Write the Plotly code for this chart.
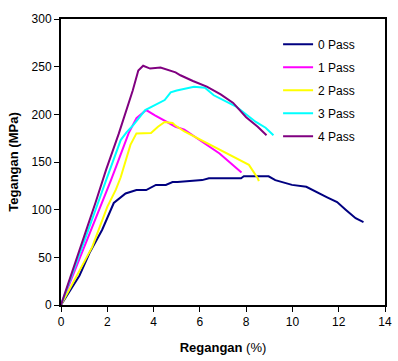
import plotly.graph_objects as go

# Stress-strain curves (strain in %, stress in MPa) for each number of passes
strain_0 = [0, 0.8, 1.23, 1.78, 2.28, 2.79, 3.26, 3.68, 4.1, 4.53, 4.82, 5.03, 6.1, 6.39,
            7.78, 7.9, 8.97, 9.26, 9.98, 10.6, 11.5, 11.93, 12.3, 12.73, 13.07]
stress_0 = [0, 31, 54.5, 79, 107, 117, 120.6, 120.6, 126, 126, 129, 129, 131, 133,
            133, 135, 135, 131, 126, 124, 113, 108, 100, 91, 87]

strain_1 = [0, 0.6, 1.2, 1.7, 2.16, 2.41, 2.92, 3.26, 3.68, 4.06, 4.6, 4.95, 5.33, 6.0,
            6.85, 7.8]
stress_1 = [0, 36, 72, 104, 131, 147, 180, 196, 204.5, 199, 192, 187, 184, 173,
            159, 139]

strain_2 = [0, 0.8, 1.35, 2.0, 2.37, 2.58, 2.79, 3.0, 3.26, 3.89, 4.19, 4.48, 4.82, 4.9,
            5.33, 5.88, 6.6, 7.44, 8.12, 8.5, 8.55]
stress_2 = [0, 37, 61, 103, 121, 134, 152, 168, 180, 180.5, 187, 192, 191, 189,
            182, 175, 166, 155, 147, 133, 130]

strain_3 = [0, 0.6, 1.2, 1.95, 2.58, 2.83, 3.13, 3.64, 4.06, 4.48, 4.74, 5.0, 5.75, 6.22,
            6.6, 7.57, 8.42, 8.84, 9.18]
stress_3 = [0, 39, 80, 131, 173, 181, 189, 204.5, 210, 215, 223, 225, 229, 228,
            220, 208, 192, 186, 178]

strain_4 = [0, 0.5, 1.0, 1.5, 1.95, 2.5, 2.79, 3.1, 3.34, 3.55, 3.85, 4.3, 4.95, 5.16,
            5.7, 6.3, 6.9, 7.44, 8.0, 8.5, 8.88]
stress_4 = [0, 35, 72, 108, 142, 180, 202, 225, 246, 251, 248, 249, 244, 241,
            235, 229, 221, 212, 197, 187, 178]

series_names = ["0 Pass", "1 Pass", "2 Pass", "3 Pass", "4 Pass"]
series_colors = ["#000080", "#FF00FF", "#FFFF00", "#00FFFF", "#800080"]
strains = [strain_0, strain_1, strain_2, strain_3, strain_4]
stresses = [stress_0, stress_1, stress_2, stress_3, stress_4]

x_ticks = [0, 2, 4, 6, 8, 10, 12, 14]
y_ticks = [0, 50, 100, 150, 200, 250, 300]

fig = go.Figure()
for name, color, xs, ys in zip(series_names, series_colors, strains, stresses):
    fig.add_trace(go.Scatter(
        x=xs, y=ys, mode="lines", name=name, legendgroup=name,
        line=dict(color=color, width=2),
    ))

font_family = "Liberation Sans, Arial, sans-serif"

fig.update_layout(
    width=398, height=361,
    margin=dict(l=61, r=6, t=19, b=56),
    paper_bgcolor="white", plot_bgcolor="white",
    font=dict(family=font_family, size=12, color="black"),
    showlegend=True,
    legend=dict(
        x=0.67, y=0.962, xanchor="left", yanchor="top",
        bgcolor="rgba(0,0,0,0)", borderwidth=0,
        font=dict(size=12, family=font_family),
        tracegroupgap=4, traceorder="grouped",
    ),
    xaxis=dict(
        range=[0, 14], tickvals=x_ticks, ticktext=[str(v) for v in x_ticks],
        showgrid=False, zeroline=False,
        showline=True, linecolor="black", linewidth=2, mirror=True,
        ticks="outside", ticklen=5, tickwidth=1, tickcolor="black",
        tickfont=dict(size=12),
        title=dict(text="<b>Regangan</b> (%)", font=dict(size=13), standoff=14),
    ),
    yaxis=dict(
        range=[0, 300], tickvals=y_ticks, ticktext=[str(v) for v in y_ticks],
        showgrid=False, zeroline=False,
        showline=True, linecolor="black", linewidth=2, mirror=True,
        ticks="outside", ticklen=5, tickwidth=1, tickcolor="black",
        tickfont=dict(size=12),
        title=dict(text="<b>Tegangan (MPa)</b>", font=dict(size=13), standoff=10),
    ),
)

fig.write_html("out.html")
